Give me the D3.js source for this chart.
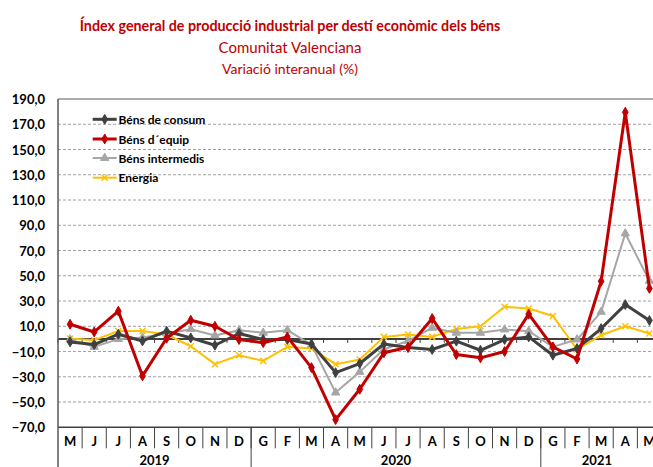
<!DOCTYPE html>
<html>
<head>
<meta charset="utf-8">
<script src="https://cdn.jsdelivr.net/npm/d3@7"></script>
<style>
body{ margin:0; background:#ffffff; }
svg{ display:block; font-family: Lato, "Liberation Sans", sans-serif; }
</style>
</head>
<body>
<div id="chart"></div>
<script>
// months from May 2019 to May 2021
let months      = ["M","J","J","A","S","O","N","D","G","F","M","A","M","J","J","A","S","O","N","D","G","F","M","A","M"];
let yearLabels  = ["2019","2020","2021"];
let yearMonths  = [8, 12, 5];

let seriesNames = ["Béns de consum", "Béns d´equip", "Béns intermedis", "Energia"];
let consum      = [-2.4, -4.5, 3.7, -1.6, 6.1, 0.8, -5.0, 4.3, -0.5, -0.5, -4.0, -26.7, -19.5, -4.0, -6.8, -8.4, -1.8, -9.0, -0.5, 1.6, -12.9, -7.6, 8.2, 27.2, 14.6];
let equip       = [11.6, 5.5, 22.0, -29.3, 0.5, 14.8, 10.0, -0.5, -3.0, 1.6, -22.7, -63.9, -39.9, -11.0, -6.6, 16.2, -12.4, -15.0, -10.0, 19.6, -6.3, -15.9, 45.7, 179.5, 40.0];
let intermedis  = [-0.5, -6.3, -0.2, 1.1, 4.3, 7.7, 2.7, 6.9, 4.8, 6.9, -4.7, -42.5, -26.1, -8.2, -1.6, 8.7, 4.8, 4.8, 7.4, 6.1, -6.3, -0.5, 21.4, 83.5, 46.0];
let energia     = [0.3, -1.0, 6.3, 6.3, 3.5, -5.8, -20.0, -12.9, -17.4, -6.3, -7.6, -20.0, -16.3, 1.6, 3.5, 1.6, 7.9, 10.0, 25.4, 24.1, 18.2, -8.2, 2.9, 10.0, 4.3];
let yTicks      = [190, 170, 150, 130, 110, 90, 70, 50, 30, 10, -10, -30, -50, -70];

let W = 653, H = 467;
let plotL = 58, plotR = 661.5, plotT = 99, plotB = 427.3;

let series = [
    { name: seriesNames[0], values: consum,     color: "#404040", width: 3,   symbol: "diamond"  },
    { name: seriesNames[1], values: equip,      color: "#C00000", width: 3,   symbol: "diamond"  },
    { name: seriesNames[2], values: intermedis, color: "#A6A6A6", width: 2,   symbol: "triangle" },
    { name: seriesNames[3], values: energia,    color: "#FFC000", width: 2,   symbol: "x"        }
];

let svg = d3.select("#chart")
            .append("svg")
                .attr("width",  W)
                .attr("height", H);

svg.append("rect").attr("width", W).attr("height", H).attr("fill", "#ffffff");

let x = d3.scaleBand()
            .domain(d3.range(months.length))
            .range([plotL, plotR]);

let y = d3.scaleLinear()
            .domain([-70, 190])
            .range([plotB, plotT]);

let fmt = (v)=>{ return d3.format(".1f")(v).replace(".", ","); };

// titles
svg.append("text")
    .attr("x", 290).attr("y", 25)
    .attr("text-anchor", "middle")
    .attr("dominant-baseline", "central")
    .attr("fill", "#C00000")
    .style("font-weight", "bold")
    .style("font-size", "14.3px")
    .text("Índex general de producció  industrial  per destí econòmic dels béns");

svg.append("text")
    .attr("x", 290).attr("y", 47)
    .attr("text-anchor", "middle")
    .attr("dominant-baseline", "central")
    .attr("fill", "#C00000")
    .style("font-size", "15px")
    .text("Comunitat Valenciana");

svg.append("text")
    .attr("x", 290).attr("y", 68)
    .attr("text-anchor", "middle")
    .attr("dominant-baseline", "central")
    .attr("fill", "#C00000")
    .style("font-size", "14px")
    .text("Variació interanual (%)");

// grid
svg.append("g")
    .selectAll("line")
    .data(yTicks.filter((d)=>{ return d > -70 && d < 190; }))
    .enter()
        .append("line")
            .attr("x1", plotL).attr("x2", plotR)
            .attr("y1", (d)=>{ return y(d); })
            .attr("y2", (d)=>{ return y(d); })
            .attr("stroke", "#a0a0a0")
            .attr("stroke-width", 1)
            .attr("stroke-dasharray", "3,2");

svg.append("line")
    .attr("x1", plotL).attr("x2", plotR)
    .attr("y1", y(190)).attr("y2", y(190))
    .attr("stroke", "#595959").attr("stroke-width", 1);

// y labels
svg.append("g")
    .selectAll("text")
    .data(yTicks)
    .enter()
        .append("text")
            .attr("x", 45)
            .attr("y", (d)=>{ return y(d); })
            .attr("text-anchor", "end")
            .attr("dominant-baseline", "central")
            .attr("fill", "#000000")
            .style("font-weight", "bold")
            .style("font-size", "13px")
            .text(fmt);

// zero line with small ticks
svg.append("line")
    .attr("x1", plotL).attr("x2", plotR)
    .attr("y1", y(0)).attr("y2", y(0))
    .attr("stroke", "#000000").attr("stroke-width", 1.5);

svg.append("g")
    .selectAll("line")
    .data(d3.range(months.length + 1))
    .enter()
        .append("line")
            .attr("x1", (i)=>{ return plotL + i * x.step(); })
            .attr("x2", (i)=>{ return plotL + i * x.step(); })
            .attr("y1", y(0)).attr("y2", y(0) + 4)
            .attr("stroke", "#404040").attr("stroke-width", 1);

// bottom axis
svg.append("line")
    .attr("x1", plotL).attr("x2", plotR)
    .attr("y1", plotB).attr("y2", plotB)
    .attr("stroke", "#404040").attr("stroke-width", 1.5);

svg.append("line")
    .attr("x1", plotL).attr("x2", plotL)
    .attr("y1", plotT).attr("y2", H)
    .attr("stroke", "#595959").attr("stroke-width", 1.5);

svg.append("g")
    .selectAll("line")
    .data(d3.range(1, months.length + 1))
    .enter()
        .append("line")
            .attr("x1", (i)=>{ return plotL + i * x.step(); })
            .attr("x2", (i)=>{ return plotL + i * x.step(); })
            .attr("y1", plotB).attr("y2", plotB + 21)
            .attr("stroke", "#404040").attr("stroke-width", 1);

svg.append("g")
    .selectAll("text")
    .data(months)
    .enter()
        .append("text")
            .attr("x", (d, i)=>{ return x(i) + x.bandwidth() / 2; })
            .attr("y", plotB + 14)
            .attr("text-anchor", "middle")
            .attr("dominant-baseline", "central")
            .style("font-weight", "bold")
            .style("font-size", "13px")
            .text((d)=>{ return d; });

// year groups
let yearStart = 0;
yearLabels.forEach((lbl, k)=>{
    let x0 = plotL + yearStart * x.step();
    let x1 = plotL + (yearStart + yearMonths[k]) * x.step();
    if( k > 0 ){
        svg.append("line")
            .attr("x1", x0).attr("x2", x0)
            .attr("y1", plotB).attr("y2", H)
            .attr("stroke", "#404040").attr("stroke-width", 1);
    }
    svg.append("text")
        .attr("x", (x0 + Math.min(x1, W)) / 2)
        .attr("y", plotB + 32.5)
        .attr("text-anchor", "middle")
        .attr("dominant-baseline", "central")
        .style("font-weight", "bold")
        .style("font-size", "13px")
        .text(lbl);
    yearStart += yearMonths[k];
});

function markerPath(sym){
    if( sym === "diamond" )  return d3.symbol().type(d3.symbolDiamond).size(28)();
    if( sym === "triangle" ) return d3.symbol().type(d3.symbolTriangle).size(30)();
    return "M-3,-3L3,3M-3,3L3,-3";
}

let line = d3.line()
            .x((d, i)=>{ return x(i) + x.bandwidth() / 2; })
            .y((d)=>{ return y(d); });

// draw order: energia, intermedis, consum, equip on top
[3, 2, 0, 1].forEach((k)=>{
    let s = series[k];
    let g = svg.append("g");
    g.append("path")
        .attr("d", line(s.values))
        .attr("fill", "none")
        .attr("stroke", s.color)
        .attr("stroke-width", s.width)
        .attr("stroke-linejoin", "round");
    g.selectAll("path.mk")
        .data(s.values)
        .enter()
            .append("path")
                .attr("class", "mk")
                .attr("d", markerPath(s.symbol))
                .attr("transform", (d, i)=>{ return "translate(" + (x(i) + x.bandwidth() / 2) + "," + y(d) + ")"; })
                .attr("fill", s.symbol === "x" ? "none" : s.color)
                .attr("stroke", s.color)
                .attr("stroke-width", s.symbol === "x" ? 1.5 : 1);
});

// legend
let legY = [119.3, 139, 158, 177.7];
series.forEach((s, k)=>{
    let g = svg.append("g").attr("transform", "translate(0," + legY[k] + ")");
    g.append("line")
        .attr("x1", 92.7).attr("x2", 116.7)
        .attr("stroke", s.color).attr("stroke-width", s.width);
    g.append("path")
        .attr("d", markerPath(s.symbol))
        .attr("transform", "translate(104.7,0)")
        .attr("fill", s.symbol === "x" ? "none" : s.color)
        .attr("stroke", s.color)
        .attr("stroke-width", s.symbol === "x" ? 1.5 : 1);
    g.append("text")
        .attr("x", 118.5)
        .attr("dominant-baseline", "central")
        .style("font-weight", "bold")
        .style("font-size", "12px")
        .text(s.name);
});
</script>
</body>
</html>
